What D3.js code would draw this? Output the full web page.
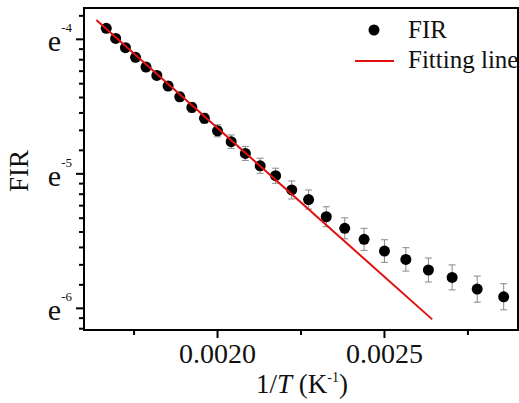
<!DOCTYPE html>
<html>
<head>
<meta charset="utf-8">
<script src="https://cdn.jsdelivr.net/npm/d3@7"></script>
<style>
  body { margin: 0; background: #fff; }
  svg { display: block; font-family: "Liberation Serif", "Times New Roman", serif; }
</style>
</head>
<body>
<svg id="chart" width="519" height="403"></svg>
<script>
// 1/T values (K^-1)
const invT = [0.0016667, 0.0016949, 0.0017241, 0.0017544, 0.0017857, 0.0018182,
    0.0018519, 0.0018868, 0.0019231, 0.0019608, 0.0020000, 0.0020408, 0.0020833,
    0.0021277, 0.0021739, 0.0022222, 0.0022727, 0.0023256, 0.0023810, 0.0024390,
    0.0025000, 0.0025641, 0.0026316, 0.0027027, 0.0027778, 0.0028571];
// ln(FIR)
const lnFIR = [-3.918, -3.993, -4.062, -4.134, -4.206, -4.268, -4.347, -4.427,
    -4.506, -4.587, -4.680, -4.761, -4.848, -4.940, -5.014, -5.120, -5.191,
    -5.319, -5.405, -5.487, -5.574, -5.636, -5.715, -5.770, -5.857, -5.914];
// error bar half-height in ln units
const lnErr = [0.022, 0.022, 0.026, 0.026, 0.030, 0.030, 0.033, 0.033, 0.037,
    0.037, 0.045, 0.050, 0.052, 0.056, 0.056, 0.067, 0.071, 0.074, 0.078,
    0.082, 0.084, 0.087, 0.089, 0.093, 0.097, 0.097];
// fitting line end points
const fitX = [0.001637, 0.002643];
const fitLn = [-3.857, -6.082];

const xMajor = [0.0020, 0.0025];
const xMinor = [0.00175, 0.00225, 0.00275];
const yMajor = [-6, -5, -4];

const svg = d3.select("#chart");
const m = { left: 84, right: 518, top: 8, bottom: 330 };

const x = d3.scaleLinear().domain([0.0016, 0.0029]).range([m.left, m.right]);
const y = d3.scaleLinear().domain([-6.161, -3.767]).range([m.bottom, m.top]);

// minor ticks of the base-e log axis: linear steps inside each decade
const yMinor = [];
for (let n = -7; n <= -4; n++) {
    const a = Math.exp(n), b = Math.exp(n + 1);
    for (let k = 1; k <= 8; k++) {
        const v = Math.log(a + k * (b - a) / 9);
        if (v > y.domain()[0] && v < y.domain()[1]) yMinor.push(v);
    }
}

const data = invT.map((d, i) => ({ x: d, v: lnFIR[i], e: lnErr[i] }));

// ticks, pointing outward
const ticks = svg.append("g").attr("stroke", "#000").attr("stroke-width", 2);
ticks.selectAll(".xt").data(xMajor.map(v => [v, 8]).concat(xMinor.map(v => [v, 5])))
    .join("line").attr("class", "xt")
    .attr("x1", d => x(d[0])).attr("x2", d => x(d[0]))
    .attr("y1", m.bottom).attr("y2", d => m.bottom + d[1]);
ticks.selectAll(".yt").data(yMajor.map(v => [v, 8]).concat(yMinor.map(v => [v, 5])))
    .join("line").attr("class", "yt")
    .attr("x1", m.left).attr("x2", d => m.left - d[1])
    .attr("y1", d => y(d[0])).attr("y2", d => y(d[0]));

// x tick labels
svg.append("g").selectAll("text").data(xMajor).join("text")
    .attr("x", d => x(d)).attr("y", 363)
    .attr("text-anchor", "middle").attr("fill", "#111")
    .style("font-size", "28px")
    .text(d3.format(".4f"));

// y tick labels e^n
const yLab = svg.append("g").selectAll("text").data(yMajor).join("text")
    .attr("x", 72)
    .attr("y", d => y(d) + 12)
    .attr("text-anchor", "end")
    .attr("fill", "#111")
    .style("font-size", "30px");
yLab.append("tspan").text("e");
yLab.append("tspan").attr("dy", -19).style("font-size", "13px").text(d => d);

// frame
svg.append("rect")
    .attr("x", m.left).attr("y", m.top)
    .attr("width", m.right - m.left).attr("height", m.bottom - m.top)
    .attr("fill", "none").attr("stroke", "#000").attr("stroke-width", 2);

// error bars
const eb = svg.append("g").attr("stroke", "#888").attr("stroke-width", 1);
eb.selectAll(".v").data(data).join("line").attr("class", "v")
    .attr("x1", d => x(d.x)).attr("x2", d => x(d.x))
    .attr("y1", d => y(d.v + d.e)).attr("y2", d => y(d.v - d.e));
eb.selectAll(".t").data(data).join("line").attr("class", "t")
    .attr("x1", d => x(d.x) - 3.5).attr("x2", d => x(d.x) + 3.5)
    .attr("y1", d => y(d.v + d.e)).attr("y2", d => y(d.v + d.e));
eb.selectAll(".b").data(data).join("line").attr("class", "b")
    .attr("x1", d => x(d.x) - 3.5).attr("x2", d => x(d.x) + 3.5)
    .attr("y1", d => y(d.v - d.e)).attr("y2", d => y(d.v - d.e));

// points
svg.append("g").selectAll("circle").data(data).join("circle")
    .attr("cx", d => x(d.x)).attr("cy", d => y(d.v))
    .attr("r", 5.5).attr("fill", "#000");

// fitting line
svg.append("path")
    .datum(fitX.map((d, i) => [d, fitLn[i]]))
    .attr("fill", "none").attr("stroke", "#e01010").attr("stroke-width", 2)
    .attr("d", d3.line().x(d => x(d[0])).y(d => y(d[1])));

// legend
const lg = svg.append("g").style("font-size", "25px").attr("fill", "#111");
lg.append("circle").attr("cx", 374).attr("cy", 30).attr("r", 5.5).attr("fill", "#000");
lg.append("text").attr("x", 408).attr("y", 38).text("FIR");
lg.append("line").attr("x1", 355).attr("x2", 394).attr("y1", 61).attr("y2", 61)
    .attr("stroke", "#e01010").attr("stroke-width", 2);
lg.append("text").attr("x", 408).attr("y", 68).text("Fitting line");

// axis titles
const xt = svg.append("text").attr("x", 302).attr("y", 393)
    .attr("text-anchor", "middle").attr("fill", "#111").style("font-size", "27px");
xt.append("tspan").text("1/");
xt.append("tspan").style("font-style", "italic").text("T");
xt.append("tspan").text(" (K");
xt.append("tspan").attr("dy", -11).style("font-size", "14px").text("-1");
xt.append("tspan").attr("dy", 11).text(")");

svg.append("text")
    .attr("transform", "translate(28,171) rotate(-90)")
    .attr("text-anchor", "middle").attr("fill", "#111")
    .style("font-size", "27px").text("FIR");
</script>
</body>
</html>
